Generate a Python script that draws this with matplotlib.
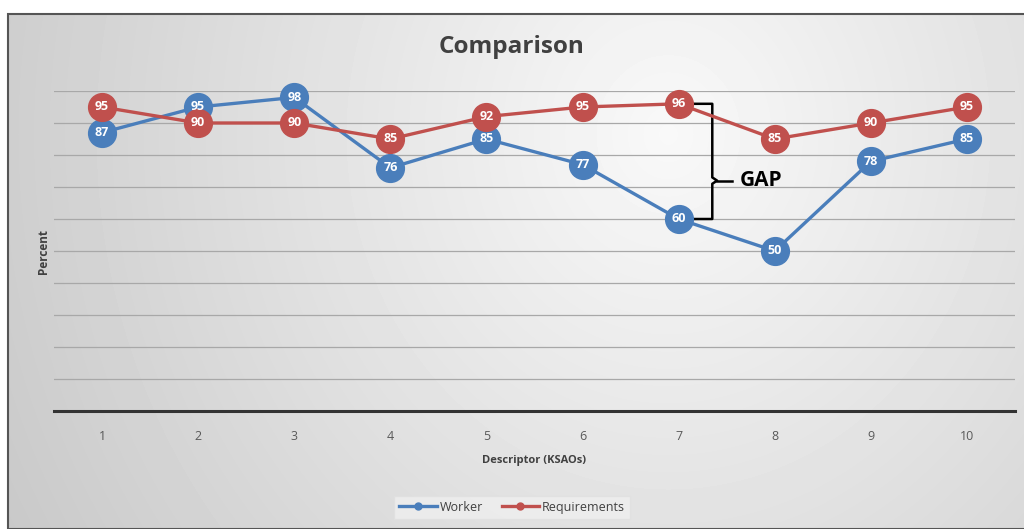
import matplotlib.pyplot as plt
from matplotlib.patches import Rectangle
import numpy as np

plt.rcParams['font.family'] = ['Open Sans', 'DejaVu Sans']

# data
descriptors = [1, 2, 3, 4, 5, 6, 7, 8, 9, 10]
worker = [87, 95, 98, 76, 85, 77, 60, 50, 78, 85]
requirements = [95, 90, 90, 85, 92, 95, 96, 85, 90, 95]
gap_at = 7

blue = '#4a7ebb'
red = '#c0504d'

fig = plt.figure(figsize=(10.24, 5.29), dpi=100, facecolor='white')

# gradient background of the chart area
bg = fig.add_axes([8 / 1024, 0, 1 - 8 / 1024, 1 - 14 / 529])
yy, xx = np.mgrid[0:515, 0:1016]
dist = np.sqrt(((xx - 660) / 680.0) ** 2 + ((yy - 120) / 750.0) ** 2)
shade = np.clip(0.975 - 0.17 * dist, 0.78, 0.975)
bg.imshow(shade, cmap='gray', vmin=0, vmax=1, aspect='auto', extent=[0, 1, 0, 1], origin='upper')
bg.set_xlim(0, 1)
bg.set_ylim(0, 1)
bg.axis('off')
bg.add_patch(Rectangle((0, 0), 1.2, 1, fill=False, edgecolor='#555555', lw=1.5,
                       transform=bg.transAxes, clip_on=False))

ax = fig.add_axes([54 / 1024, 1 - 411 / 529, 961 / 1024, 320 / 529])
ax.patch.set_alpha(0)

ax.set_xlim(0.5, 10.5)
ax.set_ylim(0, 100)
ax.set_yticks(range(10, 101, 10))
ax.yaxis.grid(True, color='#a8a8a8', lw=0.9)
ax.set_yticklabels([])
ax.tick_params(axis='y', length=0)
ax.tick_params(axis='x', length=0, pad=14, labelsize=9, labelcolor='#595959')
ax.set_xticks(descriptors)
for s in ['top', 'right', 'left']:
    ax.spines[s].set_visible(False)
ax.spines['bottom'].set_color('#333333')
ax.spines['bottom'].set_linewidth(2.2)
ax.set_axisbelow(True)

ax.plot(descriptors, worker, color=blue, lw=2.4, marker='o', ms=20,
        mfc=blue, mec=blue, clip_on=False, zorder=3, label='Worker')
ax.plot(descriptors, requirements, color=red, lw=2.4, marker='o', ms=20,
        mfc=red, mec=red, clip_on=False, zorder=4, label='Requirements')

for x, v in zip(descriptors, worker):
    ax.text(x, v, str(v), color='white', fontsize=9, fontweight='bold',
            ha='center', va='center', zorder=5)
for x, v in zip(descriptors, requirements):
    ax.text(x, v, str(v), color='white', fontsize=9, fontweight='bold',
            ha='center', va='center', zorder=6)

# gap brace
top = requirements[gap_at - 1]
bot = worker[gap_at - 1]
mid = bot + (top - bot) / 3
x0 = gap_at + 0.15
x1 = gap_at + 0.35
xt = gap_at + 0.40
ax.plot([x0, x1, x1, xt, x1, x1, x0], [top, top, mid + 1, mid, mid - 1, bot, bot],
        color='black', lw=1.8, zorder=2, solid_joinstyle='round')
ax.plot([xt, gap_at + 0.56], [mid, mid], color='black', lw=1.8, zorder=2)
ax.text(gap_at + 0.64, mid, 'GAP', fontsize=15, fontweight='bold', color='black',
        ha='left', va='center', zorder=7)

fig.text(0.5, 1 - 47 / 529, 'Comparison', fontsize=17.5, fontweight='bold', color='#404040',
         ha='center', va='center')
ax.set_xlabel('Descriptor (KSAOs)', fontsize=8, fontweight='bold', color='#404040', labelpad=8)
fig.text(43 / 1024, 1 - 252 / 529, 'Percent', fontsize=8.5, fontweight='bold', color='#404040',
         rotation=90, ha='center', va='center')

leg = fig.legend(handles=ax.lines[:2], loc='lower center', bbox_to_anchor=(0.5, 0.008),
                 ncol=2, fontsize=9, frameon=True, fancybox=False, handlelength=3,
                 columnspacing=1.5, handletextpad=0.2, markerscale=0.25)
leg.get_frame().set_facecolor('#efefef')
leg.get_frame().set_edgecolor('#e0e0e0')
for t in leg.get_texts():
    t.set_color('#404040')

fig.savefig('out.png', dpi=100)
